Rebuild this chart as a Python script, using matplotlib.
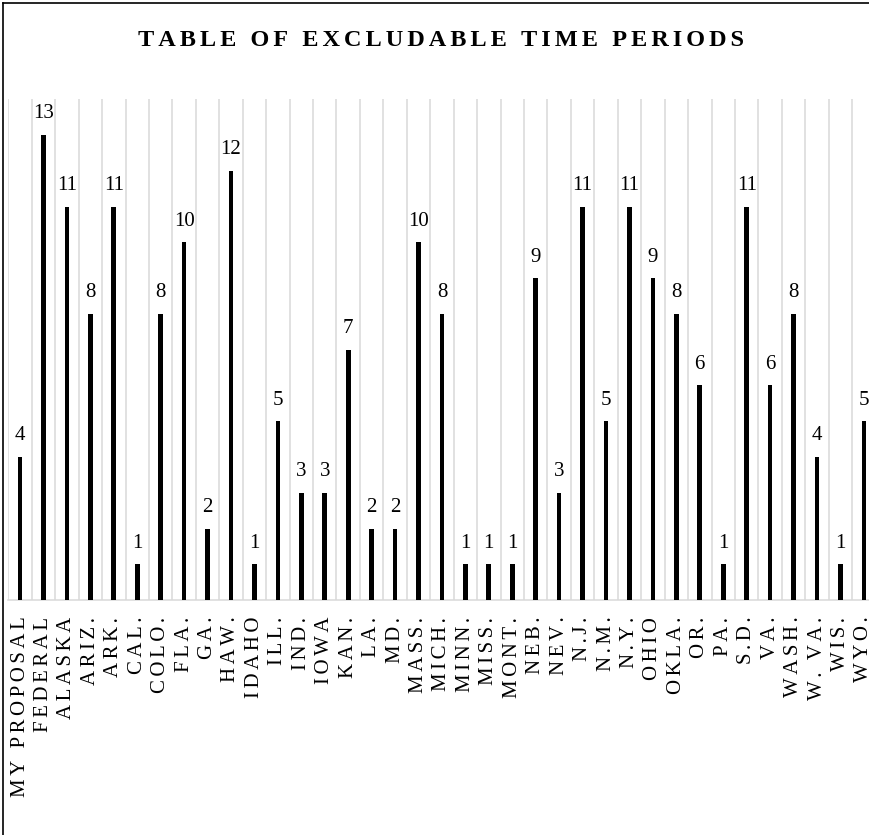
import matplotlib
matplotlib.use('Agg')
import matplotlib.pyplot as plt
import numpy as np
from matplotlib.lines import Line2D

states = ['MY PROPOSAL', 'FEDERAL', 'ALASKA', 'ARIZ.', 'ARK.', 'CAL.', 'COLO.',
          'FLA.', 'GA.', 'HAW.', 'IDAHO', 'ILL.', 'IND.', 'IOWA', 'KAN.', 'LA.',
          'MD.', 'MASS.', 'MICH.', 'MINN.', 'MISS.', 'MONT.', 'NEB.', 'NEV.',
          'N.J.', 'N.M.', 'N.Y.', 'OHIO', 'OKLA.', 'OR.', 'PA.', 'S.D.', 'VA.',
          'WASH.', 'W. VA.', 'WIS.', 'WYO.']
periods = [4, 13, 11, 8, 11, 1, 8, 10, 2, 12, 1, 5, 3, 3, 7, 2, 2, 10, 8, 1,
           1, 1, 9, 3, 11, 5, 11, 9, 8, 6, 1, 11, 6, 8, 4, 1, 5]
title = 'TABLE OF EXCLUDABLE TIME PERIODS'

SERIF = ['Liberation Serif', 'DejaVu Serif']
TRACK = '\u2006'  # six-per-em space, used as letter spacing


def spaced(s):
    return TRACK.join(s)


fig = plt.figure(figsize=(8.7, 8.35), dpi=100)
ax = fig.add_axes([0.00954, 0.2814, 0.9969, 0.5996])

x = np.arange(len(states))
ax.bar(x, periods, width=0.2, color='black', zorder=3)

ax.set_xlim(-0.5, len(states) - 0.5)
ax.set_ylim(0, 14)

# gridlines between categories
ax.set_xticks(np.arange(-0.5, len(states), 1.0), minor=True)
ax.xaxis.grid(True, which='minor', color='#d9d9d9', linewidth=1.1, zorder=0)
ax.set_xticks(x)
ax.set_xticklabels([spaced(s) for s in states], rotation=90, family=SERIF,
                   fontsize=15, va='top')
ax.tick_params(axis='x', which='both', length=0, pad=12)
ax.tick_params(axis='y', left=False, labelleft=False)
for side in ['top', 'left', 'right']:
    ax.spines[side].set_visible(False)
ax.spines['bottom'].set_color('#d9d9d9')
ax.spines['bottom'].set_linewidth(1.1)

for xi, v in zip(x, periods):
    ax.annotate(str(v), (xi, v), xytext=(0, 12), textcoords='offset points',
                ha='center', va='baseline', family=SERIF, fontsize=15)

fig.text(0.507, 0.9449, spaced(title), ha='center', va='baseline',
         family=SERIF, fontsize=17.5, fontweight='bold')

# frame on left and top
fig.add_artist(Line2D([0.004, 0.004], [0, 0.996], color='black', linewidth=1.2,
                      transform=fig.transFigure))
fig.add_artist(Line2D([0.004, 1], [0.996, 0.996], color='black', linewidth=1.2,
                      transform=fig.transFigure))

fig.savefig('out.png', dpi=100)
